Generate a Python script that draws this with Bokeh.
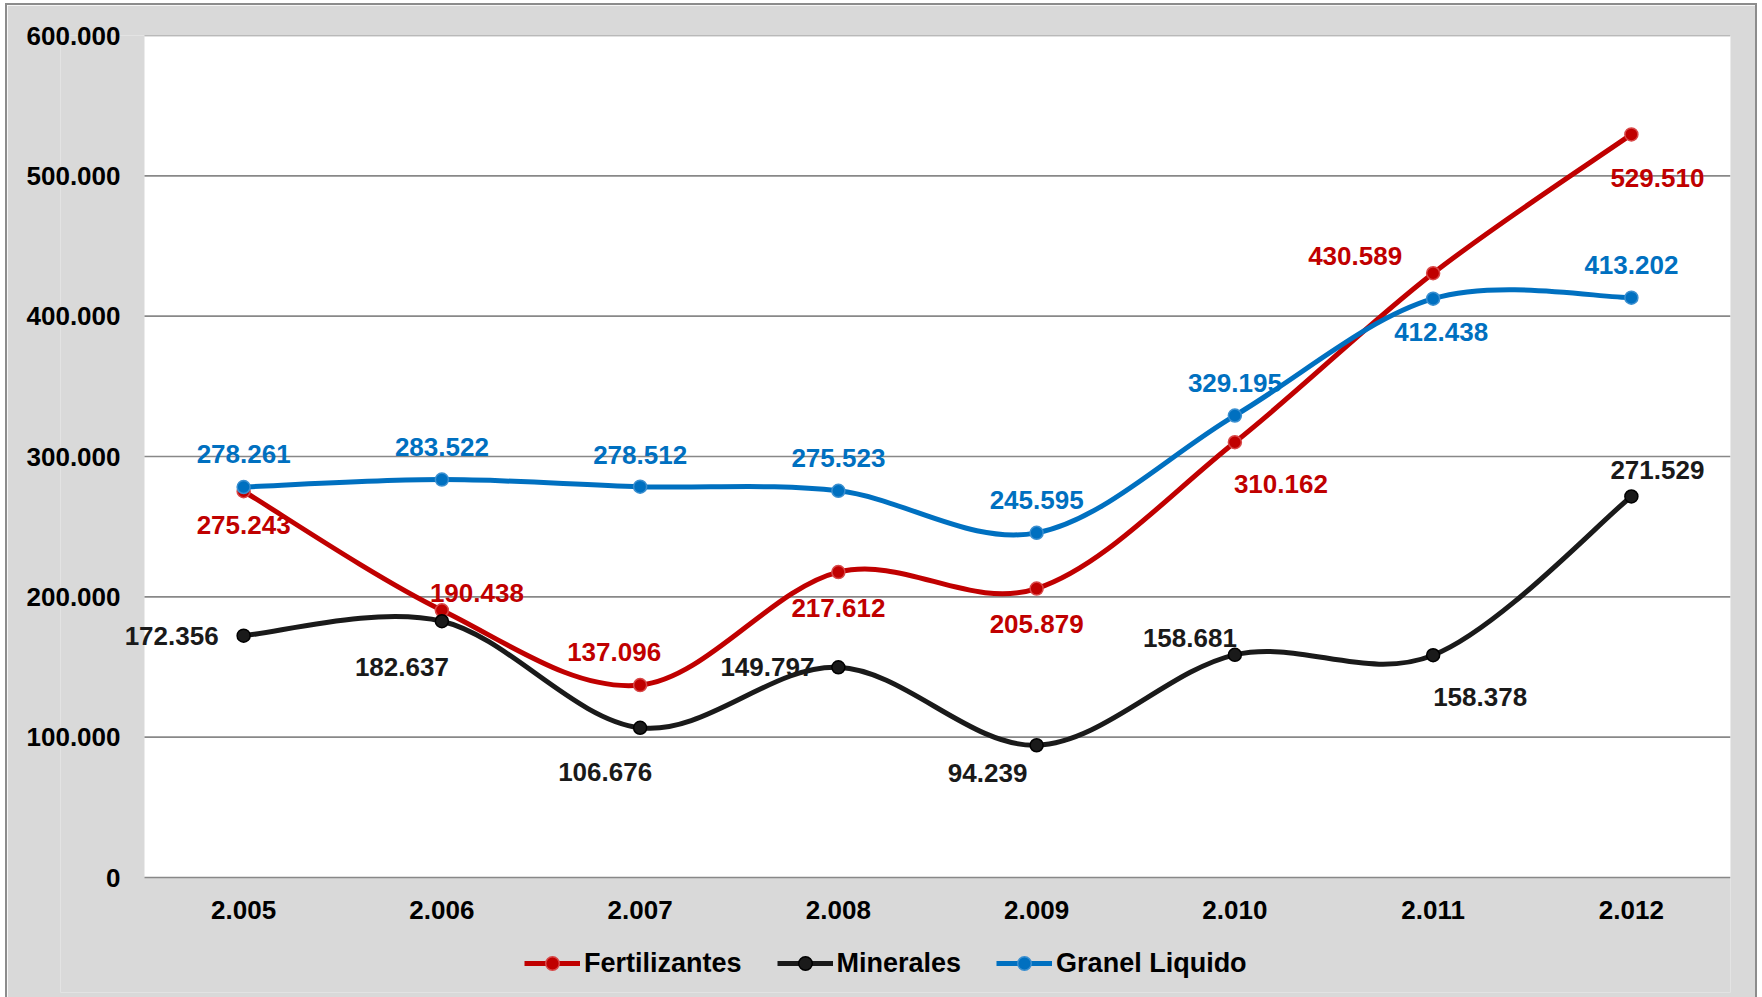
import numpy as np
from bokeh.plotting import figure
from bokeh.models import Range1d, FixedTicker, Legend, LegendItem, ColumnDataSource, BoxAnnotation
from bokeh.embed import file_html
from bokeh.resources import INLINE
from bokeh.core.properties import value

# ---- data ----
years = ["2.005", "2.006", "2.007", "2.008", "2.009", "2.010", "2.011", "2.012"]
fertilizantes = [275243, 190438, 137096, 217612, 205879, 310162, 430589, 529510]
minerales = [172356, 182637, 106676, 149797, 94239, 158681, 158378, 271529]
granel_liquido = [278261, 283522, 278512, 275523, 245595, 329195, 412438, 413202]
y_ticks = [0, 100000, 200000, 300000, 400000, 500000, 600000]
y_tick_labels = ["0", "100.000", "200.000", "300.000", "400.000", "500.000", "600.000"]

# ---- label placement (screen px, +y = down) ----
off_fert = [(0, 34), (35, -17), (-26, -33), (0, 36), (0, 35), (46, 42), (-78, -17), (26, 44)]
off_min = [(-72, 0), (-40, 46), (-35, 44), (-71, 0), (-49, 28), (-45, -17), (47, 42), (26, -26)]
off_gran = [(0, -33), (0, -33), (0, -32), (0, -33), (0, -33), (0, -33), (8, 33), (0, -33)]

FONT = "Liberation Sans"
FS = "26px"

def fmt(v):
    return f"{v:,}".replace(",", ".")

def bezier_segments(xs, ys, t=1.0 / 6.0):
    P = np.column_stack([np.asarray(xs, float), np.asarray(ys, float)])
    n = len(P)
    d = dict(x0=[], y0=[], x1=[], y1=[], cx0=[], cy0=[], cx1=[], cy1=[])
    for i in range(n - 1):
        pm = P[max(i - 1, 0)]
        p0 = P[i]
        p1 = P[i + 1]
        p2 = P[min(i + 2, n - 1)]
        c0 = p0 + (p1 - pm) * t
        c1 = p1 - (p2 - p0) * t
        d["x0"].append(p0[0]); d["y0"].append(p0[1])
        d["x1"].append(p1[0]); d["y1"].append(p1[1])
        d["cx0"].append(c0[0]); d["cy0"].append(c0[1])
        d["cx1"].append(c1[0]); d["cy1"].append(c1[1])
    return d

# ---- layout (page pixels) ----
OX, OY = 7, 5                            # figure's top-left on the page
W, H = 1755 - OX, 997 - OY
FL, FR, FT, FB = 60, 1730, 35, 992      # frame edges (page px)
PL, PB = 144, 877                       # white plot area: left, bottom (page px)
YMAX = 600000
n = len(years)
x_start = -(PL - FL) / ((FR - PL) / n)
y_start = -(FB - PB) / ((PB - FT) / YMAX)

xpos = [i + 0.5 for i in range(n)]

p = figure(width=W, height=H, output_backend="svg", toolbar_location=None,
           x_range=Range1d(x_start, n), y_range=Range1d(y_start, YMAX),
           min_border_left=FL - OX, min_border_right=W - (FR - OX), min_border_top=FT - OY,
           min_border_bottom=H - (FB - OY))
p.styles = {"outline": "2px solid #8c8c8c", "margin-left": f"{OX}px", "margin-top": f"{OY}px"}
p.border_fill_color = "#D9D9D9"
p.background_fill_color = "#D9D9D9"
p.outline_line_color = None
p.grid.grid_line_color = None

p.add_layout(BoxAnnotation(left=0, right=n, bottom=0, top=YMAX, fill_color="white",
                           fill_alpha=1, line_color=None, level="underlay"))

# horizontal gridlines limited to the plot area
p.segment(x0=0, x1=n, y0=y_ticks, y1=y_ticks, line_color="#888888", line_width=1.6,
          line_cap="butt")

p.yaxis.ticker = FixedTicker(ticks=y_ticks)
p.yaxis.major_label_overrides = {t: l for t, l in zip(y_ticks, y_tick_labels)}
p.xaxis.ticker = FixedTicker(ticks=xpos)
p.xaxis.major_label_overrides = {x: y for x, y in zip(xpos, years)}
for ax in (p.xaxis[0], p.yaxis[0]):
    ax.axis_line_color = None
    ax.major_tick_line_color = None
    ax.minor_tick_line_color = None
    ax.major_tick_out = 0
    ax.major_tick_in = 0
    ax.minor_tick_out = 0
    ax.major_label_text_font = FONT
    ax.major_label_text_font_style = "bold"
    ax.major_label_text_font_size = FS
    ax.major_label_text_color = "black"
p.yaxis.major_label_standoff = -(120 - FL)
p.xaxis.major_label_standoff = -(FB - 900)

series = [
    ("Fertilizantes", fertilizantes, "#C00000", "#D84848", off_fert),
    ("Minerales", minerales, "#1A1A1A", "#000000", off_min),
    ("Granel Liquido", granel_liquido, "#0070C0", "#3A8FD0", off_gran),
]

items = []
for name, vals, color, edge, offs in series:
    segs = ColumnDataSource(bezier_segments(xpos, vals))
    br = p.bezier(x0="x0", y0="y0", x1="x1", y1="y1", cx0="cx0", cy0="cy0",
                  cx1="cx1", cy1="cy1", source=segs, line_color=color, line_width=5)
    sr = p.scatter(xpos, vals, size=13, fill_color=color, line_color=edge, line_width=1.5)
    items.append(LegendItem(label=name, renderers=[br, sr]))

for name, vals, color, edge, offs in series:
    src = ColumnDataSource(dict(x=xpos, y=vals, t=[fmt(v) for v in vals],
                                dx=[o[0] for o in offs], dy=[o[1] for o in offs]))
    p.text(x="x", y="y", text="t", x_offset="dx", y_offset="dy", source=src,
           text_font=value(FONT), text_font_style="bold", text_font_size=FS,
           text_color=color, text_align="center", text_baseline="middle")

legend = Legend(items=items, orientation="horizontal", location=(528 - FL - 4, 12),
                label_text_font=FONT, label_text_font_style="bold",
                label_text_font_size="27px", label_text_color="black",
                glyph_width=56, glyph_height=34, label_standoff=4, spacing=35,
                background_fill_alpha=0, border_line_color=None, padding=4, margin=0)
p.add_layout(legend, "center")

open("out.html", "w").write(file_html(p, INLINE))
